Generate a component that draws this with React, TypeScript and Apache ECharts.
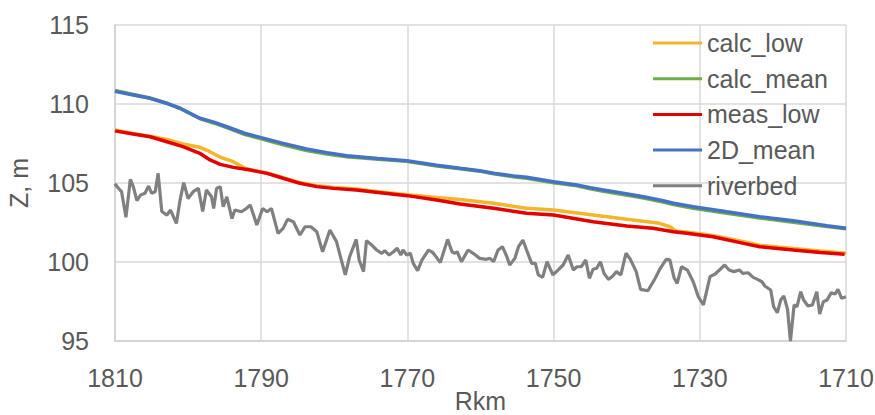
import React, { useEffect, useRef } from "react";
import * as echarts from "echarts";

// River kilometre at the left end of the axis (axis runs 1810 -> 1710)
const KM_LEFT = 1810;
const KM_RIGHT = 1710;
const KM_STEP = 20;

const seriesNames = ["calc_low", "calc_mean", "meas_low", "2D_mean", "riverbed"];

// 2D_mean and calc_mean share positions
const meanKm = [1810, 1807.5, 1805.2, 1803, 1801.1, 1798.4, 1796.5, 1794.7, 1792.3, 1790, 1787, 1783.8, 1781, 1778.3, 1774, 1770.1, 1766, 1762.8, 1760.1, 1758.2, 1755.5, 1753.7, 1750, 1746.8, 1745, 1743.2, 1740.5, 1737.7, 1735, 1733.6, 1730.9, 1726.3, 1721.8, 1717.2, 1712.6, 1710];
const mean2D = [110.8, 110.57, 110.36, 110.05, 109.73, 109.1, 108.85, 108.56, 108.15, 107.87, 107.51, 107.15, 106.92, 106.73, 106.55, 106.41, 106.12, 105.93, 105.78, 105.62, 105.45, 105.36, 105.08, 104.87, 104.7, 104.56, 104.35, 104.13, 103.88, 103.72, 103.5, 103.18, 102.87, 102.61, 102.3, 102.13];
const calcMean = [110.85, 110.6, 110.38, 110.07, 109.72, 109.08, 108.8, 108.5, 108.08, 107.8, 107.42, 107.06, 106.84, 106.66, 106.5, 106.37, 106.08, 105.9, 105.75, 105.58, 105.4, 105.3, 105.02, 104.82, 104.63, 104.48, 104.27, 104.05, 103.79, 103.63, 103.4, 103.08, 102.78, 102.52, 102.24, 102.1];

const measLowKm = [1810, 1807.5, 1805.2, 1802.9, 1800.7, 1798.4, 1797, 1795.6, 1793.8, 1791.5, 1789.2, 1787, 1784.7, 1782.4, 1780.1, 1777, 1774, 1770, 1766, 1762.8, 1758.2, 1753.7, 1750, 1744.6, 1740, 1736.4, 1733.6, 1731.8, 1728.2, 1724, 1721.8, 1717.2, 1713.5, 1710.2];
const measLow = [108.3, 108.1, 107.93, 107.61, 107.3, 106.88, 106.46, 106.18, 105.99, 105.82, 105.61, 105.3, 104.98, 104.77, 104.66, 104.55, 104.4, 104.2, 103.92, 103.67, 103.4, 103.08, 102.97, 102.55, 102.28, 102.13, 101.92, 101.82, 101.6, 101.18, 100.97, 100.76, 100.6, 100.49];

const calcLowKm = [1810, 1807.5, 1805.2, 1802.9, 1800.7, 1798.4, 1797, 1795.6, 1793.8, 1792.2, 1791, 1789.2, 1787, 1784.7, 1782.4, 1780.1, 1777, 1774, 1770, 1766, 1762.8, 1758.2, 1753.7, 1750, 1744.6, 1740, 1735.5, 1734.1, 1733.2, 1731.8, 1728.2, 1724, 1721.8, 1717.2, 1713.5, 1710];
const calcLow = [108.35, 108.12, 107.96, 107.75, 107.47, 107.26, 106.98, 106.63, 106.35, 105.93, 105.8, 105.63, 105.33, 105.02, 104.82, 104.72, 104.62, 104.45, 104.26, 104.08, 103.95, 103.72, 103.4, 103.29, 102.97, 102.7, 102.45, 102.23, 101.95, 101.9, 101.68, 101.28, 101.06, 100.85, 100.7, 100.56];

const riverbedKm = [1810, 1809.6, 1809.1, 1808.5, 1807.9, 1807.5, 1807.0, 1806.5, 1805.9, 1805.4, 1805.0, 1804.5, 1804.1, 1803.6, 1802.9, 1802.4, 1801.6, 1801.1, 1800.6, 1800.0, 1799.3, 1798.6, 1798.0, 1797.5, 1796.8, 1796.5, 1796.1, 1795.6, 1795.2, 1794.7, 1794.0, 1793.6, 1792.7, 1792.0, 1791.5, 1790.6, 1789.8, 1789.2, 1788.6, 1787.7, 1787.0, 1786.4, 1785.6, 1784.7, 1784.0, 1783.2, 1782.4, 1781.6, 1780.6, 1779.7, 1778.5, 1777.9, 1777.0, 1776.6, 1776.0, 1775.6, 1774.9, 1774.2, 1773.5, 1773.1, 1772.5, 1771.9, 1771.4, 1770.9, 1770.6, 1770.1, 1769.6, 1769.2, 1768.6, 1768.0, 1767.1, 1766.5, 1765.5, 1765.1, 1764.5, 1763.9, 1763.5, 1763.2, 1762.6, 1761.7, 1761.0, 1760.1, 1759.2, 1758.7, 1758.2, 1757.6, 1757.0, 1756.4, 1756.0, 1755.3, 1754.8, 1754.2, 1753.7, 1753.0, 1752.5, 1752.1, 1751.5, 1750.9, 1750.1, 1749.4, 1748.7, 1748.0, 1747.3, 1746.8, 1746.2, 1745.6, 1745.1, 1744.6, 1744.1, 1743.6, 1743.1, 1742.5, 1741.9, 1741.4, 1740.8, 1740.1, 1739.5, 1738.7, 1738.1, 1737.1, 1736.1, 1735.4, 1734.6, 1734.1, 1733.5, 1733.1, 1732.5, 1731.7, 1730.9, 1730.2, 1729.5, 1728.6, 1727.9, 1727.2, 1726.6, 1726.0, 1725.3, 1724.6, 1724.1, 1723.4, 1722.7, 1722.1, 1721.5, 1721.1, 1720.3, 1719.9, 1719.4, 1718.9, 1718.5, 1718.0, 1717.6, 1717.1, 1716.7, 1716.2, 1715.8, 1715.2, 1714.6, 1714.0, 1713.6, 1713.1, 1712.6, 1712.0, 1711.5, 1711.1, 1710.6, 1710.0];
const riverbed = [104.95, 104.7, 104.45, 102.83, 105.23, 104.77, 103.88, 104.24, 104.35, 104.81, 104.35, 104.45, 105.61, 103.2, 102.97, 103.29, 102.44, 103.92, 105.02, 104.02, 104.45, 104.66, 103.2, 104.56, 104.13, 103.39, 104.66, 104.77, 103.5, 104.13, 102.75, 103.29, 103.18, 103.39, 103.61, 102.34, 103.39, 103.18, 103.39, 101.81, 102.13, 102.7, 102.55, 101.71, 102.23, 102.23, 101.92, 100.65, 102.03, 101.29, 99.18, 100.34, 101.43, 100.13, 99.39, 101.35, 101.08, 100.76, 100.55, 100.72, 100.44, 100.65, 100.87, 100.44, 100.76, 100.44, 100.55, 99.91, 99.45, 100.13, 100.76, 100.59, 99.96, 100.55, 101.43, 100.65, 100.55, 100.65, 100.02, 100.76, 100.55, 100.23, 100.17, 100.23, 100.02, 100.76, 100.97, 100.34, 99.81, 100.23, 100.97, 101.39, 100.76, 99.91, 99.91, 99.18, 99.03, 100.02, 99.18, 99.49, 99.81, 100.44, 99.49, 99.7, 99.7, 100.13, 98.97, 99.54, 99.6, 100.02, 99.28, 98.9, 99.11, 99.39, 99.18, 100.55, 100.17, 99.39, 98.27, 98.18, 98.97, 99.6, 100.17, 100.13, 98.97, 98.65, 99.7, 99.49, 98.75, 97.8, 97.28, 99.07, 99.24, 99.54, 99.81, 99.49, 99.39, 99.49, 99.28, 99.32, 99.03, 98.9, 98.75, 98.48, 98.23, 97.17, 96.79, 97.63, 97.85, 97.0, 95.0, 97.28, 97.17, 98.12, 97.59, 97.22, 97.28, 98.12, 96.71, 97.49, 97.59, 98.06, 97.97, 98.27, 97.7, 97.8];

const colors = ["#F2B62C", "#6FAD47", "#E50000", "#4472C4", "#808080"];
const widths = [3.5, 3.5, 3.5, 3.5, 3.2];

const FONT = "Liberation Sans";
const TEXT = "#595959";

function toPoints(km: number[], z: number[]) {
  return km.map((k, i) => [KM_LEFT - k, z[i]]);
}

export default function App() {
  const ref = useRef<HTMLDivElement>(null);
  useEffect(() => {
    const chart = echarts.init(ref.current!, null, { renderer: "svg" });
    const datasets = [
      toPoints(calcLowKm, calcLow),
      toPoints(meanKm, calcMean),
      toPoints(measLowKm, measLow),
      toPoints(meanKm, mean2D),
      toPoints(riverbedKm, riverbed),
    ];
    chart.setOption({
      animation: false,
      backgroundColor: "#ffffff",
      textStyle: { fontFamily: FONT },
      grid: {
        left: 115,
        right: 29,
        top: 25,
        bottom: 74,
        containLabel: false,
        outerBoundsMode: "none",
      },
      legend: {
        orient: "vertical",
        left: 653,
        top: 28,
        padding: 0,
        icon: "rect",
        itemWidth: 49,
        itemHeight: 3,
        itemGap: 5.7,
        textStyle: { fontSize: 25, color: TEXT, fontFamily: FONT, lineHeight: 30 },
        data: seriesNames,
      },
      xAxis: {
        type: "value",
        min: 0,
        max: KM_LEFT - KM_RIGHT,
        interval: KM_STEP,
        name: "Rkm",
        nameLocation: "middle",
        nameGap: 47,
        nameMoveOverlap: false,
        nameTextStyle: { fontSize: 25, color: TEXT, fontFamily: FONT, lineHeight: 25 },
        axisLine: { show: true, lineStyle: { color: "#d0d0d0", width: 1.5 } },
        axisTick: { show: false },
        axisLabel: {
          fontSize: 25,
          color: TEXT,
          fontFamily: FONT,
          margin: 24,
          formatter: (v: number) => String(KM_LEFT - v),
        },
        splitLine: { show: true, lineStyle: { color: "#d9d9d9", width: 1.5 } },
      },
      yAxis: {
        type: "value",
        min: 95,
        max: 115,
        interval: 5,
        name: "Z, m",
        nameLocation: "middle",
        nameGap: 84,
        nameMoveOverlap: false,
        nameTextStyle: { fontSize: 25, color: TEXT, fontFamily: FONT },
        axisLine: { show: true, lineStyle: { color: "#d0d0d0", width: 1.5 } },
        axisTick: { show: false },
        axisLabel: { fontSize: 25, color: TEXT, fontFamily: FONT, margin: 26 },
        splitLine: { show: true, lineStyle: { color: "#d9d9d9", width: 1.5 } },
      },
      series: seriesNames.map((name, i) => ({
        name,
        type: "line",
        data: datasets[i],
        showSymbol: false,
        symbol: "none",
        color: colors[i],
        lineStyle: { color: colors[i], width: widths[i] },
        emphasis: { disabled: true },
        z: 2 + i,
      })),
    });
    return () => chart.dispose();
  }, []);
  return (
    <div
      ref={ref}
      style={{ position: "fixed", left: 0, top: 0, width: 875, height: 415 }}
    />
  );
}
